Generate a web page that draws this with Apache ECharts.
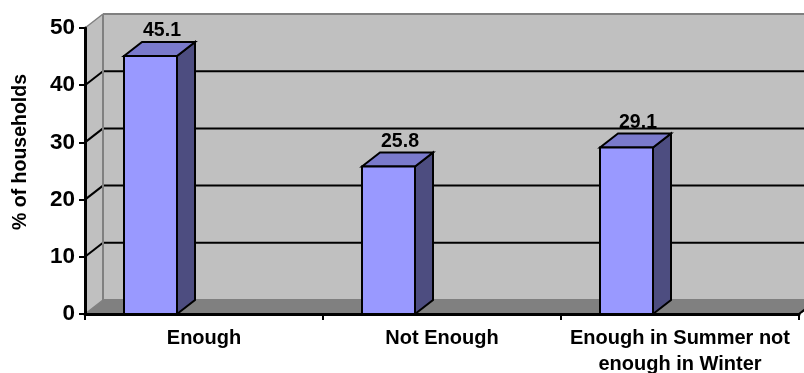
<!DOCTYPE html>
<html>
<head>
<meta charset="utf-8">
<style>html,body{margin:0;padding:0;background:#fff}#chart{width:804px;height:373px}</style>
<script src="https://cdn.jsdelivr.net/npm/echarts@6/dist/echarts.min.js"></script>
</head>
<body>
<div id="chart"></div>
<script>
const categories = ['Enough', 'Not Enough', 'Enough in Summer not\nenough in Winter'];
const households = [45.1, 25.8, 29.1];
const yTicks = [0, 10, 20, 30, 40, 50];
const yAxisTitle = '% of households';

// Pseudo-3D depth of the box and the column placement inside each band
const depthX = 18, depthY = -14;
const barW = 53, barShift = -80;
const font = '"Liberation Sans", Arial, sans-serif';

const poly = (points, fill, stroke, lineWidth) => ({
  type: 'polygon', shape: { points },
  style: { fill, stroke, lineWidth: lineWidth || 0 }
});
const seg = (x1, y1, x2, y2, stroke, lineWidth) => ({
  type: 'line', shape: { x1, y1, x2, y2 }, style: { stroke, lineWidth }
});

// Back wall, side wall and floor of the box, with a rule for every tick
function renderBox(params, api) {
  const cs = params.coordSys;
  const x0 = cs.x, x1 = cs.x + cs.width + 30;
  const yTop = api.coord([0, yTicks[yTicks.length - 1]])[1];
  const yBot = api.coord([0, 0])[1];
  const dx = depthX, dy = depthY;
  const kids = [
    poly([[x0 + dx, yTop + dy], [x1, yTop + dy], [x1, yBot + dy], [x0 + dx, yBot + dy]], '#c0c0c0'),
    poly([[x0, yTop], [x0 + dx, yTop + dy], [x0 + dx, yBot + dy], [x0, yBot]], '#c0c0c0'),
    poly([[x0, yBot], [x0 + dx, yBot + dy], [x1, yBot + dy], [x1 - 30, yBot]], '#808080')
  ];
  yTicks.forEach(t => {
    const y = api.coord([0, t])[1];
    const edge = t === 0 || t === 50;
    kids.push(seg(x0 + dx, y + dy, x1, y + dy, edge ? '#808080' : '#000000', 2));
    kids.push(seg(x0, y, x0 + dx, y + dy, edge ? '#808080' : '#000000', edge ? 1.5 : 2));
  });
  kids.push(seg(x0 + dx, yTop + dy, x0 + dx, yBot + dy, '#808080', 2));
  kids.push(seg(x1 - 30, yBot, x1 - 30 + dx, yBot + dy, '#000000', 2));
  return { type: 'group', children: kids };
}

// One extruded column with its value above the top face
function renderColumn(params, api) {
  const i = api.value(0), v = api.value(1);
  const top = api.coord([i, v]);
  const base = api.coord([i, 0]);
  const xl = top[0] + barShift, xr = xl + barW;
  const yt = top[1], yb = base[1];
  const dx = depthX, dy = depthY;
  return {
    type: 'group',
    children: [
      poly([[xr, yt], [xr + dx, yt + dy], [xr + dx, yb + dy], [xr, yb]], '#4d4d80', '#000', 2),
      poly([[xl, yt], [xl + dx, yt + dy], [xr + dx, yt + dy], [xr, yt]], '#7a7acc', '#000', 2),
      poly([[xl, yt], [xr, yt], [xr, yb], [xl, yb]], '#9999ff', '#000', 2),
      {
        type: 'text', z2: 10,
        style: {
          text: String(v), x: xl + barW / 2 + 11.5, y: yt + dy - 1,
          align: 'center', verticalAlign: 'bottom',
          font: 'bold 19.5px ' + font, fill: '#000'
        }
      }
    ]
  };
}

const chart = echarts.init(document.getElementById('chart'), null, { renderer: 'canvas' });
chart.setOption({
  animation: false,
  backgroundColor: '#ffffff',
  grid: { left: 85, right: 5, top: 28, bottom: 59, containLabel: false, outerBoundsMode: 'none' },
  xAxis: {
    type: 'category', data: categories, z: 10,
    axisLine: { lineStyle: { color: '#000', width: 3 } },
    axisTick: { show: true, length: 6, lineStyle: { color: '#000', width: 2 } },
    axisLabel: {
      interval: 0, color: '#000', fontFamily: font, fontWeight: 'bold', fontSize: 20,
      lineHeight: 26, margin: 11
    }
  },
  yAxis: {
    type: 'value', min: 0, max: 50, interval: 10, z: 10,
    name: yAxisTitle, nameLocation: 'middle', nameGap: 54, nameRotate: 90,
    nameTextStyle: {
      color: '#000', fontFamily: font, fontWeight: 'bold', fontSize: 19.5,
      padding: [0, 0, 0, 38]
    },
    axisLine: { show: true, lineStyle: { color: '#000', width: 3 } },
    axisTick: { show: true, length: 6, lineStyle: { color: '#000', width: 2 } },
    axisLabel: { color: '#000', fontFamily: font, fontWeight: 'bold', fontSize: 22.5, margin: 10, lineHeight: 22, padding: [4, 0, 0, 0] },
    splitLine: { show: false }
  },
  series: [
    { type: 'custom', z: 1, silent: true, clip: false, data: [[0, 0]], renderItem: renderBox },
    {
      type: 'custom', z: 2, clip: false,
      data: households.map((v, i) => [i, v]),
      encode: { x: 0, y: 1 },
      renderItem: renderColumn
    }
  ]
});
</script>
</body>
</html>
